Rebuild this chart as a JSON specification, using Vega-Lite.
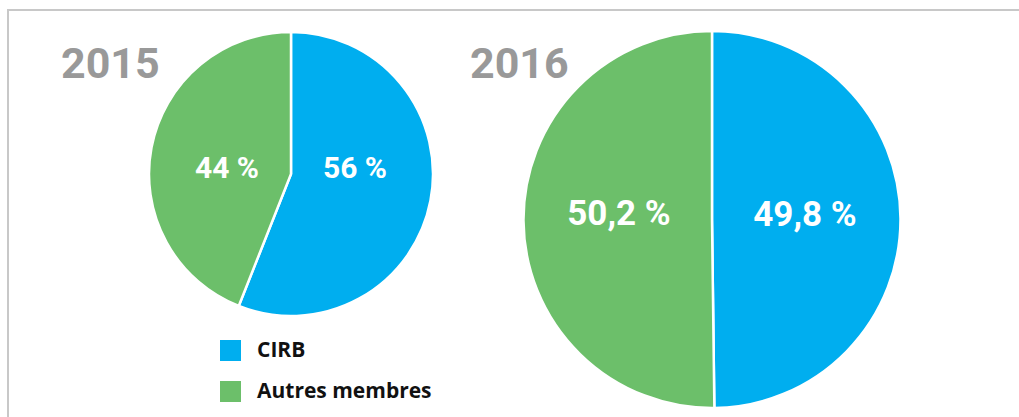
{
  "$schema": "https://vega.github.io/schema/vega-lite/v6.json",
  "autosize": {"type": "none"},
  "padding": {"left": 8, "top": 10, "right": 0, "bottom": 0},
  "width": 1011,
  "height": 407,
  "background": "white",
  "config": {
    "font": "Roboto",
    "view": {"stroke": "#c8c8c8", "strokeWidth": 2, "strokeDash": [1011, 1418, 407, 10]}
  },
  "data": {
    "values": [
      {"year": 2015, "org": "CIRB", "value": 56, "label": "56 %"},
      {"year": 2015, "org": "Autres membres", "value": 44, "label": "44 %"},
      {"year": 2016, "org": "CIRB", "value": 49.8, "label": "49,8 %"},
      {"year": 2016, "org": "Autres membres", "value": 50.2, "label": "50,2 %"}
    ]
  },
  "resolve": {"scale": {"x": "independent", "y": "independent", "radius": "independent", "size": "independent", "theta": "independent"}},
  "layer": [
    {
      "mark": {"type": "arc", "stroke": "white", "strokeWidth": 2.5},
      "encoding": {
        "x": {"field": "year", "type": "ordinal", "scale": {"type": "point", "range": [283, 704], "padding": 0}, "axis": null},
        "y": {"field": "year", "type": "ordinal", "scale": {"type": "point", "range": [164, 209.5], "padding": 0}, "axis": null},
        "theta": {"field": "value", "type": "quantitative", "stack": true},
        "radius": {"field": "year", "type": "quantitative", "scale": {"type": "linear", "zero": false, "domain": [2015, 2016], "range": [142, 188.5]}},
        "radius2": {"value": 0},
        "order": {"field": "org", "type": "nominal", "sort": "descending"},
        "color": {
          "field": "org",
          "type": "nominal",
          "scale": {"domain": ["CIRB", "Autres membres"], "range": ["#00AEEF", "#6CBF6A"]},
          "legend": {
            "title": null,
            "orient": "none",
            "legendX": 212,
            "legendY": 330,
            "symbolType": "square",
            "symbolSize": 441,
            "symbolStrokeWidth": 0,
            "symbolOpacity": 1,
            "labelFont": "Open Sans",
            "labelFontSize": 21,
            "labelFontWeight": "bold",
            "labelColor": "#111111",
            "labelOffset": 16,
            "labelLimit": 400,
            "rowPadding": 19,
            "padding": 0
          }
        }
      }
    },
    {
      "mark": {"type": "text", "color": "white", "fontWeight": "bold", "align": "center", "baseline": "middle", "dy": -5},
      "encoding": {
        "x": {"field": "year", "type": "ordinal", "scale": {"type": "point", "range": [283, 704], "padding": 0}, "axis": null},
        "y": {"field": "year", "type": "ordinal", "scale": {"type": "point", "range": [164, 209.5], "padding": 0}, "axis": null},
        "theta": {"field": "org", "type": "nominal", "scale": {"type": "point", "domain": ["CIRB", "Autres membres"], "range": [1.5708, 4.7124], "padding": 0}},
        "radius": {"field": "year", "type": "quantitative", "scale": {"type": "linear", "zero": false, "domain": [2015, 2016], "range": [64, 93]}},
        "size": {"field": "year", "type": "quantitative", "scale": {"type": "linear", "zero": false, "domain": [2015, 2016], "range": [30, 35]}, "legend": null},
        "text": {"field": "label", "type": "nominal"}
      }
    },
    {
      "transform": [{"filter": "datum.org === 'CIRB'"}],
      "mark": {"type": "text", "color": "#999999", "fontWeight": "bold", "fontSize": 43, "align": "left", "baseline": "alphabetic"},
      "encoding": {
        "x": {"field": "year", "type": "ordinal", "scale": {"type": "point", "range": [53, 462], "padding": 0}, "axis": null},
        "y": {"field": "year", "type": "ordinal", "scale": {"type": "point", "range": [68, 68], "padding": 0}, "axis": null},
        "text": {"field": "year", "type": "nominal"}
      }
    }
  ]
}
